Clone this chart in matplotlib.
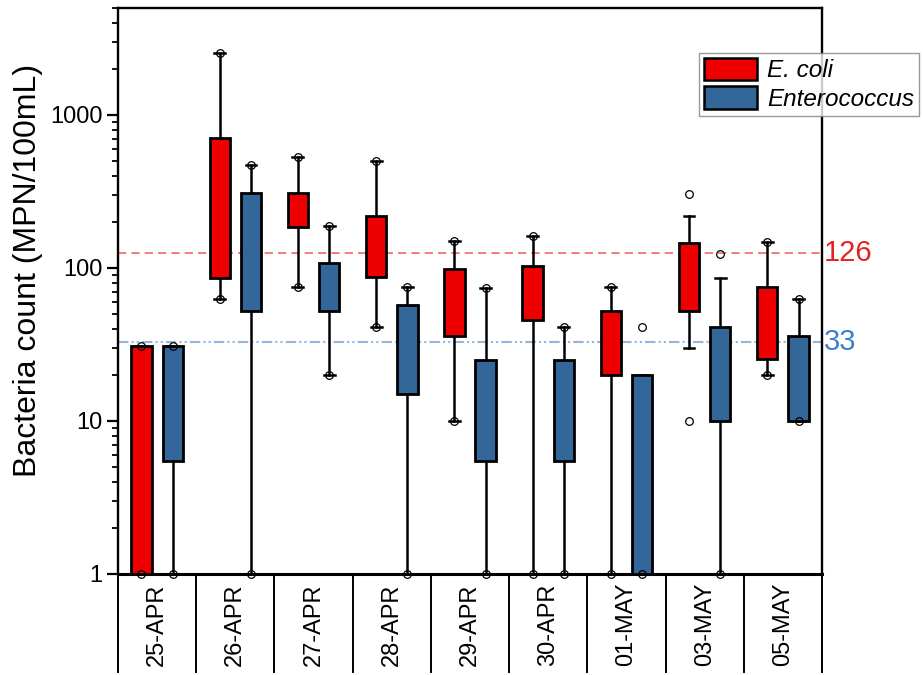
import matplotlib
matplotlib.use("Agg")
import matplotlib.pyplot as plt
import matplotlib.transforms as mtransforms
from matplotlib.patches import Patch
from matplotlib.ticker import FixedLocator, LogLocator, NullFormatter, FuncFormatter

plt.rcParams['font.family'] = ['Liberation Sans', 'DejaVu Sans']

# Data (MPN/100mL)
dates = ['25-APR', '26-APR', '27-APR', '28-APR', '29-APR', '30-APR', '01-MAY', '03-MAY', '05-MAY']

ecoli_q1 = [1, 86, 186, 87, 36, 46, 20, 52, 25.5]
ecoli_med = [15.5, 395, 254, 155, 58, 69, 41, 75, 36]
ecoli_q3 = [31, 711, 308, 219, 98, 103, 52, 145, 75]
ecoli_lo = [1, 63, 75, 41, 10, 1, 1, 30, 20]
ecoli_hi = [31, 2530, 534, 503, 151, 162, 75, 219, 147]
ecoli_pts = [[1, 31], [63, 2530], [75, 534], [41, 503], [10, 151],
             [1, 162], [1, 75], [10, 303], [20, 147]]

entero_q1 = [5.5, 52, 52, 15, 5.5, 5.5, 1, 10, 10]
entero_med = [20.5, 141, 80, 41, 10, 20, 10, 20, 15]
entero_q3 = [31, 308, 108, 57, 25, 25, 20, 41, 36]
entero_lo = [1, 1, 20, 1, 1, 1, 1, 1, 10]
entero_hi = [31, 471, 189, 75, 74, 41, 20, 86, 63]
entero_pts = [[1, 31], [1, 471], [20, 189], [1, 75], [1, 74],
              [1, 41], [1, 41], [1, 123], [10, 63]]

ecoli_limit = 126
entero_limit = 33

red = '#ee0000'
blue = '#336699'


def make_stats(q1, med, q3, lo, hi, pts):
    return [dict(q1=a, med=b, q3=c, whislo=d, whishi=e, fliers=f)
            for a, b, c, d, e, f in zip(q1, med, q3, lo, hi, pts)]


fig = plt.figure(figsize=(9.23, 6.75), dpi=100)
ax = fig.add_axes([118 / 923, 1 - 574 / 675, 704 / 923, 566 / 675])
ax.set_yscale('log')
ax.set_xlim(0, len(dates))
ax.set_ylim(1, 5000)

ax.axhline(ecoli_limit, color='#f06a6a', lw=1.2, ls=(0, (5, 3)), zorder=1)
ax.axhline(entero_limit, color='#93b6da', lw=1.5, ls=(0, (5, 1.5, 1, 1.5, 1, 1.5)), zorder=1)

centers = [i + 0.5 for i in range(len(dates))]
for stats, off, col in [(make_stats(ecoli_q1, ecoli_med, ecoli_q3, ecoli_lo, ecoli_hi, ecoli_pts), -0.2, red),
                        (make_stats(entero_q1, entero_med, entero_q3, entero_lo, entero_hi, entero_pts), 0.2, blue)]:
    art = ax.bxp(stats, positions=[c + off for c in centers], widths=0.26,
                 capwidths=0.14, patch_artist=True, manage_ticks=False,
                 boxprops=dict(facecolor=col, edgecolor='black', linewidth=2.0),
                 medianprops=dict(color='black', linewidth=1.8),
                 whiskerprops=dict(color='black', linewidth=1.8),
                 capprops=dict(color='black', linewidth=1.8),
                 flierprops=dict(marker='o', markersize=5.5, markerfacecolor='none',
                                 markeredgecolor='black', markeredgewidth=0.9))
    for fl in art['fliers']:
        fl.set_clip_on(False)
        fl.set_zorder(5)
    for b in art['boxes']:
        b.set_zorder(3)

# y axis
ax.yaxis.set_major_locator(FixedLocator([1, 10, 100, 1000]))
ax.yaxis.set_major_formatter(FuncFormatter(lambda v, p: '%g' % v))
ax.yaxis.set_minor_locator(LogLocator(base=10, subs=range(2, 10)))
ax.yaxis.set_minor_formatter(NullFormatter())
ax.tick_params(axis='y', which='major', direction='out', length=8, width=1.6,
               labelsize=17, pad=3)
ax.tick_params(axis='y', which='minor', direction='out', length=4, width=1.3)
ax.set_xticks([])
ax.set_ylabel('Bacteria count (MPN/100mL)', fontsize=23)
ax.yaxis.set_label_coords(-0.107, 0.537)

for side, lw in [('left', 1.7), ('bottom', 2.2), ('top', 1.7), ('right', 1.7)]:
    ax.spines[side].set_linewidth(lw)

# category table below the axis
trans = mtransforms.blended_transform_factory(ax.transData, ax.transAxes)
table_bottom = -(672 - 574) / 566
for i in range(len(dates) + 1):
    ax.plot([i, i], [0, table_bottom], color='black', lw=1.4, transform=trans, clip_on=False)
for c, d in zip(centers, dates):
    ax.text(c, -0.089, d, rotation=90, ha='center', va='center', fontsize=17, transform=trans)

# limit labels
trans_r = mtransforms.blended_transform_factory(ax.transAxes, ax.transData)
ax.text(1.002, ecoli_limit, str(ecoli_limit), color='#e52222', fontsize=21,
        ha='left', va='center', transform=trans_r)
ax.text(1.002, entero_limit, str(entero_limit), color='#3a80c8', fontsize=21,
        ha='left', va='center', transform=trans_r)

handles = [Patch(facecolor=red, edgecolor='black', linewidth=1.8, label='E. coli'),
           Patch(facecolor=blue, edgecolor='black', linewidth=1.8, label='Enterococcus')]
leg = fig.legend(handles=handles, loc='upper left', bbox_to_anchor=(699 / 923, 1 - 53 / 675),
                 prop=dict(style='italic', size=17.5), frameon=True, fancybox=False,
                 edgecolor='#808080', handlelength=2.2, handleheight=1.05, handletextpad=0.4,
                 borderpad=0.2, labelspacing=0.15, borderaxespad=0)
leg.get_frame().set_linewidth(1.0)

fig.savefig('out.png', dpi=100)
